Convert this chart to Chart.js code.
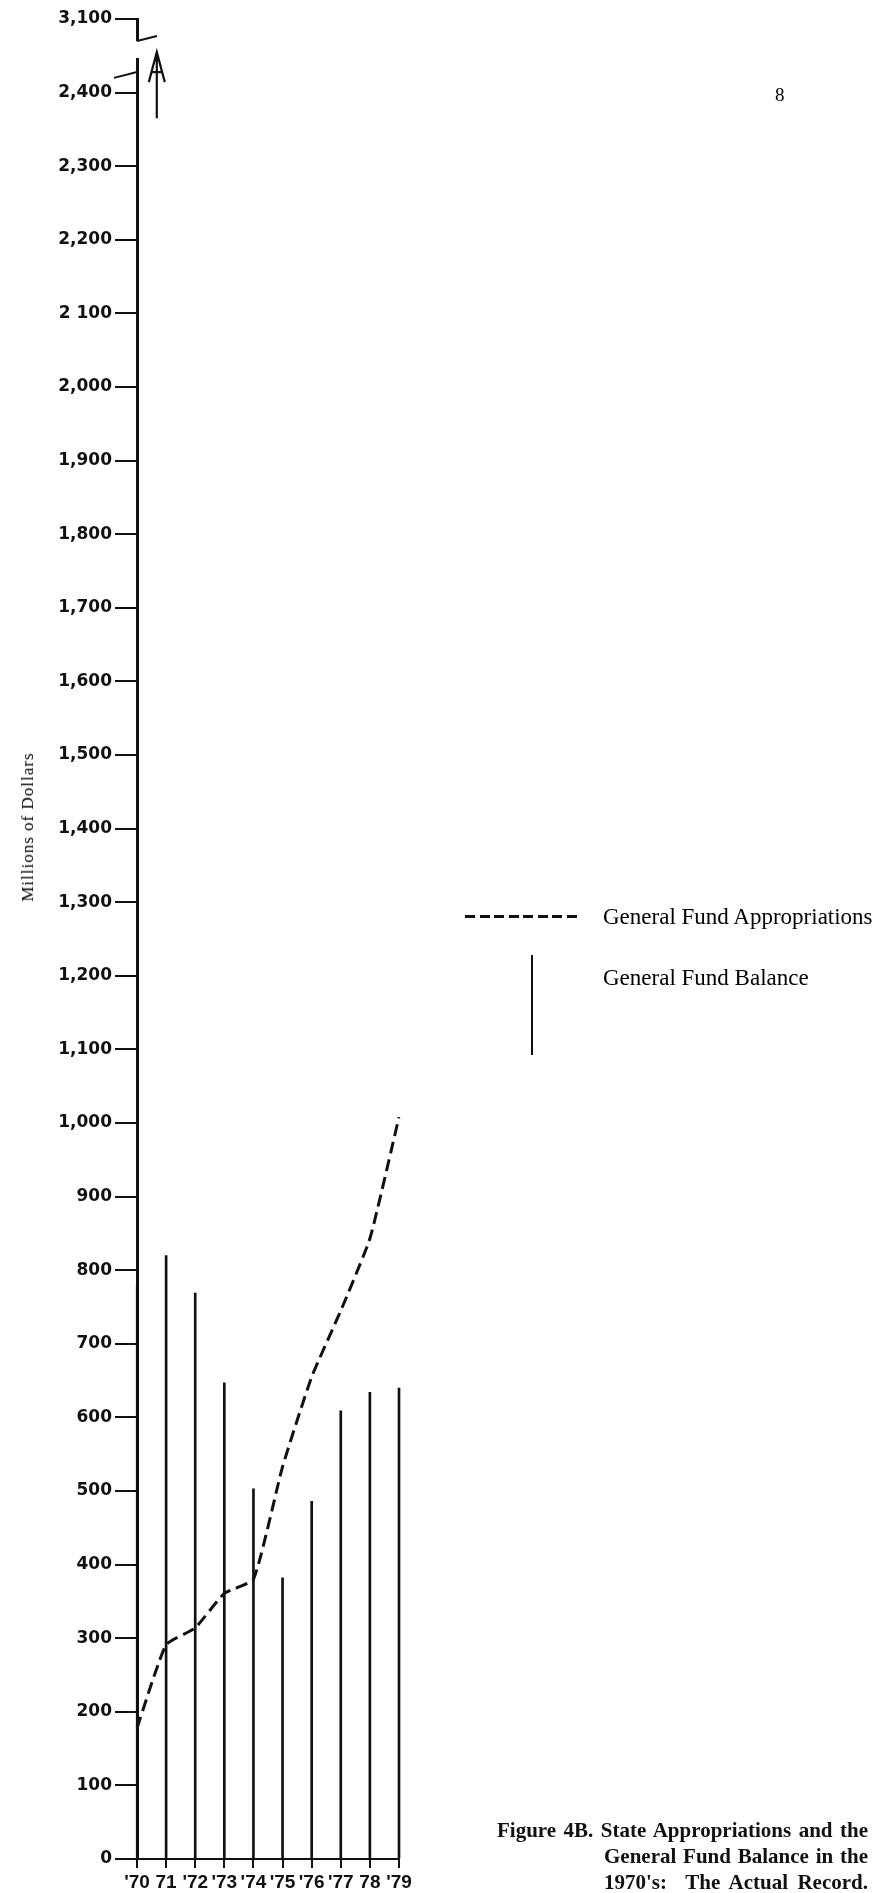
<!DOCTYPE html>
<html>
<head>
<meta charset="utf-8">
<script src="https://cdn.jsdelivr.net/npm/chart.js@4.4.1/dist/chart.umd.min.js"></script>
<style>
  html, body { margin:0; padding:0; background:#fff; }
  #wrap { position:relative; width:888px; height:1893px; overflow:hidden; }
  #chart { position:absolute; left:0; top:0; }
  .txt { position:absolute; color:#000; white-space:nowrap; font-family:"Liberation Serif", serif; }
  #ytitle { left:28px; top:827px; font-size:17px; letter-spacing:1px; transform:translate(-50%,-50%) rotate(-90deg); }
  #page { left:775px; top:84px; font-family:"Liberation Serif", serif; font-size:19px; }
  .legtext { left:603px; font-size:23px; }
  #dash { position:absolute; left:465px; top:915px; width:114px; height:2.5px;
          background:repeating-linear-gradient(to right,#111 0 10px,transparent 10px 14.5px); }
  #vbar { position:absolute; left:531px; top:955px; width:2px; height:100px; background:#111; }
  .cap { position:absolute; font-family:"Liberation Serif", serif; font-weight:bold; font-size:21px;
         color:#111; text-align:justify; text-align-last:justify; white-space:normal; }
</style>
</head>
<body>
<div id="wrap">
  <canvas id="chart" width="888" height="1893"></canvas>
  <div class="txt" id="ytitle">Millions of Dollars</div>
  <div class="txt" id="page">8</div>
  <div id="dash"></div>
  <div class="txt legtext" style="top:904px">General Fund Appropriations</div>
  <div id="vbar"></div>
  <div class="txt legtext" style="top:965px">General Fund Balance</div>
  <div class="cap" style="left:497px; top:1818px; width:371px">Figure 4B. State Appropriations and the</div>
  <div class="cap" style="left:604px; top:1844px; width:264px">General Fund Balance in the</div>
  <div class="cap" style="left:604px; top:1870px; width:264px">1970's:&nbsp; The Actual Record.</div>
</div>
<script>
// fiscal years on the x axis, as printed
const years = ["'70", "71", "'72", "'73", "'74", "'75", "'76", "'77", "78", "'79"];
// millions of dollars
const appropriations = [178, 291, 314, 361, 380, 533, 655, 745, 843, 1008];
const fundBalance = [780, 820, 769, 647, 503, 382, 486, 609, 634, 640];
// y tick labels, one per 100 (the top one sits past the axis break)
const yTickLabels = ['0','100','200','300','400','500','600','700','800','900',
  '1,000','1,100','1,200','1,300','1,400','1,500','1,600','1,700','1,800','1,900',
  '2,000','2 100','2,200','2,300','2,400','3,100'];
// the broken stretch of the y axis and the "A" arrow above 1970-71
const axisBreak = { from: 2447, to: 2470 };
const overflowArrow = { at: 0.68, from: 2365, to: 2455 };

const ink = '#111';

const breakPlugin = {
  id: 'breakAndArrow',
  afterDatasetsDraw(chart) {
    const { ctx, scales: { x, y } } = chart;
    const left = chart.chartArea.left;
    ctx.save();
    // cut the axis
    const yLo = y.getPixelForValue(axisBreak.from);
    const yHi = y.getPixelForValue(axisBreak.to);
    ctx.fillStyle = '#fff';
    ctx.fillRect(left - 3, yHi, 6, yLo - yHi);
    ctx.strokeStyle = ink;
    ctx.lineWidth = 2;
    ctx.beginPath();
    ctx.moveTo(left - 23, y.getPixelForValue(2420));
    ctx.lineTo(left, y.getPixelForValue(2428));
    ctx.moveTo(left, yHi);
    ctx.lineTo(left + 20, y.getPixelForValue(2477));
    ctx.stroke();
    // arrow with an "A" head
    const ax = x.getPixelForValue(overflowArrow.at);
    const y0 = y.getPixelForValue(overflowArrow.from);
    const y1 = y.getPixelForValue(overflowArrow.to);
    ctx.lineWidth = 2.2;
    ctx.beginPath();
    ctx.moveTo(ax, y0);
    ctx.lineTo(ax, y1);
    ctx.moveTo(ax - 8, y1 + 30);
    ctx.lineTo(ax, y1);
    ctx.lineTo(ax + 8, y1 + 30);
    ctx.moveTo(ax - 5, y1 + 20);
    ctx.lineTo(ax + 5, y1 + 20);
    ctx.stroke();
    ctx.restore();
  }
};

new Chart(document.getElementById('chart'), {
  type: 'bar',
  data: {
    labels: years,
    datasets: [
      {
        type: 'line',
        label: 'General Fund Appropriations',
        data: appropriations,
        borderColor: ink,
        borderWidth: 3,
        borderDash: [12, 6],
        pointRadius: 0,
        tension: 0.15,
        fill: false
      },
      {
        type: 'bar',
        label: 'General Fund Balance',
        data: fundBalance,
        backgroundColor: ink,
        borderColor: ink,
        borderWidth: (c) => (c.dataIndex === 0 ? 1 : 0),
        barThickness: 2,
        clip: false
      }
    ]
  },
  options: {
    responsive: false,
    animation: false,
    devicePixelRatio: 1,
    layout: { padding: { left: 0, right: 489, top: 19, bottom: 0 } },
    plugins: { legend: { display: false }, tooltip: { enabled: false } },
    scales: {
      x: {
        type: 'category',
        offset: false,
        grid: { offset: false, drawOnChartArea: false, color: ink, lineWidth: 2, tickLength: 9 },
        border: { display: true, color: ink, width: 2 },
        ticks: {
          autoSkip: false, maxRotation: 0, padding: 3, color: ink,
          font: { family: 'Liberation Sans', weight: 'bold', size: 19 }
        },
        afterFit(scale) { scale.height = 34; }
      },
      y: {
        min: 0,
        max: 2500,
        grid: { drawOnChartArea: false, color: ink, lineWidth: 2, tickLength: 22 },
        border: { display: true, color: ink, width: 3 },
        ticks: {
          stepSize: 100, autoSkip: false, padding: 3, color: ink,
          font: { family: 'DejaVu Sans', weight: 'bold', size: 17 },
          callback: (v) => yTickLabels[Math.round(v / 100)]
        },
        afterFit(scale) { scale.width = 137; }
      }
    }
  },
  plugins: [breakPlugin]
});
</script>
</body>
</html>
